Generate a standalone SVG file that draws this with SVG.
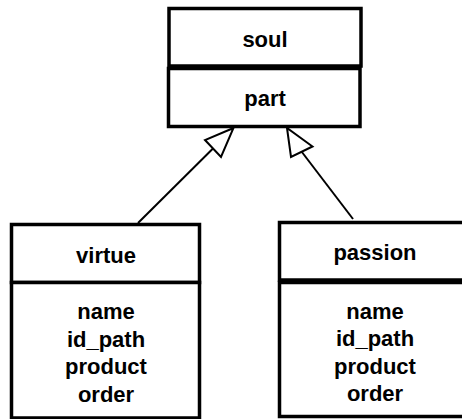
<svg xmlns="http://www.w3.org/2000/svg" width="462" height="419" viewBox="0 0 462 419">
<style>
.box{fill:#fff;stroke:#000;stroke-width:3.5}
.t{font-family:"Liberation Sans",Arial,sans-serif;font-weight:bold;font-size:22px;fill:#000;text-anchor:middle}
.edge{stroke:#000;stroke-width:2;fill:none}
.head{fill:#fff;stroke:#000;stroke-width:2;stroke-linejoin:miter}
</style>
<rect width="462" height="419" fill="#fff"/>
<g id="connectors">
<line class="edge" x1="138" y1="223" x2="213" y2="148.5"/>
<polygon class="head" points="233.5,128 205,140 221,157"/>
<line class="edge" x1="353" y1="219" x2="301.5" y2="151.5"/>
<polygon class="head" points="287,128 291,157 312.5,146.5"/>
</g>
<g id="soul">
<rect class="box" x="169" y="8.5" width="192" height="57.5"/>
<text class="t" x="265" y="46.5">soul</text>
</g>
<g id="part">
<rect class="box" x="168.5" y="68.5" width="191.5" height="58"/>
<text class="t" x="265" y="106">part</text>
</g>
<g id="virtue">
<rect class="box" x="11.5" y="224.5" width="188" height="58"/>
<rect class="box" x="11.5" y="282.5" width="188" height="135.5"/>
<text class="t" x="106" y="262.5">virtue</text>
<text class="t" x="106" y="319">name</text>
<text class="t" x="106" y="346.5">id_path</text>
<text class="t" x="106" y="374">product</text>
<text class="t" x="106" y="401.5">order</text>
</g>
<g id="passion">
<rect class="box" x="279.5" y="222.5" width="192" height="57.5"/>
<rect class="box" x="279.5" y="282.5" width="192" height="134"/>
<text class="t" x="375" y="259.5">passion</text>
<text class="t" x="375" y="318.5">name</text>
<text class="t" x="375" y="346">id_path</text>
<text class="t" x="375" y="373.5">product</text>
<text class="t" x="375" y="401">order</text>
</g>
</svg>
